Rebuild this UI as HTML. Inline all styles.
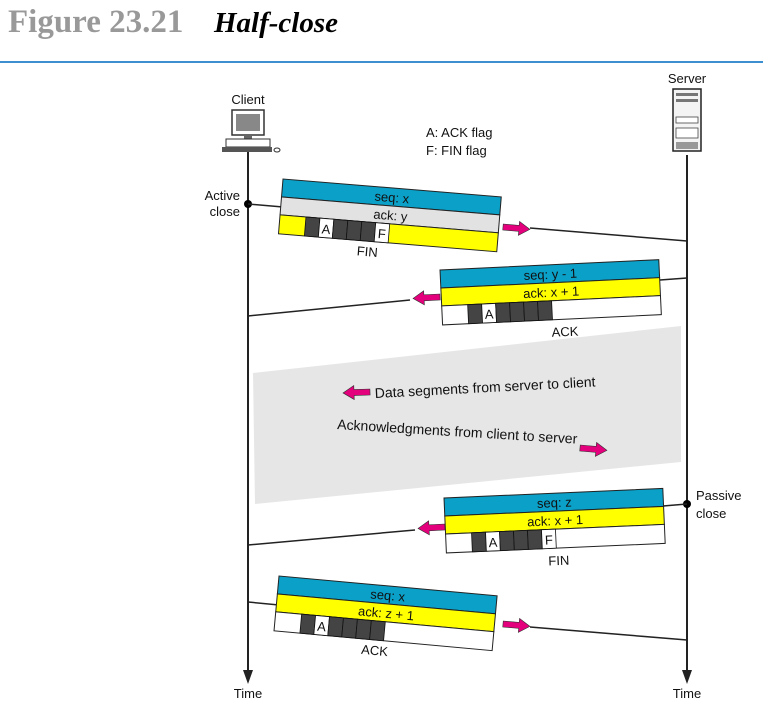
<!DOCTYPE html>
<html><head><meta charset="utf-8"><style>
html,body{margin:0;padding:0;background:#fff;width:763px;height:706px;overflow:hidden}
svg{display:block}
.t{font-family:"Liberation Sans",sans-serif;font-size:13px;fill:#111}
.b{font-family:"Liberation Sans",sans-serif;font-size:14px;fill:#111}
</style></head><body>
<svg width="763" height="706" viewBox="0 0 763 706" xmlns="http://www.w3.org/2000/svg">
<defs>
<g id="cells6">
<rect x="26" y="0" width="14" height="19" fill="#444" stroke="#111" stroke-width="0.8"/>
<rect x="40" y="0" width="14" height="19" fill="#fff" stroke="#111" stroke-width="0.8"/>
<text x="47" y="15" text-anchor="middle" class="t">A</text>
<rect x="54" y="0" width="14" height="19" fill="#444" stroke="#111" stroke-width="0.8"/>
<rect x="68" y="0" width="14" height="19" fill="#444" stroke="#111" stroke-width="0.8"/>
<rect x="82" y="0" width="14" height="19" fill="#444" stroke="#111" stroke-width="0.8"/>
</g>
<polygon id="arrR" points="0,-3 16,-3 16,-7 27,0 16,7 16,3 0,3" fill="#e4007c" stroke="#333" stroke-width="0.6"/>
</defs>

<text x="8" y="32" font-family="Liberation Serif,serif" font-size="33" font-weight="bold" fill="#999">Figure 23.21</text>
<text x="214" y="32" font-family="Liberation Serif,serif" font-size="29" font-weight="bold" font-style="italic" fill="#000">Half-close</text>
<rect x="0" y="61" width="763" height="2" fill="#3d8fd0"/>

<polygon points="253,373 681,326 681,462 255,504" fill="#e6e6e6"/>

<line x1="248" y1="150" x2="248" y2="672" stroke="#222" stroke-width="2"/>
<polygon points="243,670 253,670 248,684" fill="#222"/>
<line x1="687" y1="155" x2="687" y2="672" stroke="#222" stroke-width="2"/>
<polygon points="682,670 692,670 687,684" fill="#222"/>
<text x="248" y="698" text-anchor="middle" class="t">Time</text>
<text x="687" y="698" text-anchor="middle" class="t">Time</text>

<text x="248" y="104" text-anchor="middle" class="t">Client</text>
<rect x="232" y="110" width="32" height="25" fill="#fff" stroke="#333" stroke-width="1.5"/>
<rect x="236" y="114" width="24" height="17" fill="#888"/>
<rect x="244" y="135" width="8" height="4" fill="#666"/>
<rect x="226" y="139" width="44" height="8" fill="#fff" stroke="#333"/>
<rect x="222" y="147" width="50" height="5" fill="#555"/>
<ellipse cx="277" cy="150" rx="3" ry="2" fill="#fff" stroke="#333"/>

<text x="687" y="83" text-anchor="middle" class="t">Server</text>
<rect x="673" y="89" width="28" height="62" fill="#f4f4f4" stroke="#222" stroke-width="1.5"/>
<rect x="676" y="93" width="22" height="3" fill="#777"/>
<rect x="676" y="99" width="22" height="3" fill="#777"/>
<rect x="676" y="117" width="22" height="6" fill="#fff" stroke="#444" stroke-width="0.8"/>
<rect x="676" y="128" width="22" height="10" fill="#fff" stroke="#444" stroke-width="0.8"/>
<rect x="676" y="142" width="22" height="7" fill="#999"/>

<text x="426" y="137" class="t">A: ACK flag</text>
<text x="426" y="155" class="t">F: FIN flag</text>

<text x="240" y="200" text-anchor="end" class="t">Active</text>
<text x="240" y="216" text-anchor="end" class="t">close</text>
<circle cx="248" cy="204" r="4" fill="#000"/>

<text x="696" y="500" class="t">Passive</text>
<text x="696" y="518" class="t">close</text>
<circle cx="687" cy="504" r="4" fill="#000"/>

<line x1="248" y1="204" x2="283" y2="207" stroke="#222" stroke-width="1.5"/>
<line x1="530" y1="228" x2="687" y2="241" stroke="#222" stroke-width="1.5"/>
<use href="#arrR" transform="translate(503,227) rotate(5)"/>
<g transform="translate(283,179) rotate(4.7)">
<rect x="0" y="0" width="219" height="18" fill="#0aa0c8" stroke="#222"/>
<text x="110" y="14" text-anchor="middle" class="t">seq: x</text>
<rect x="0" y="18" width="219" height="18" fill="#e2e2e2" stroke="#222"/>
<text x="110" y="32" text-anchor="middle" class="t">ack: y</text>
<rect x="0" y="36" width="219" height="19" fill="#ffff00" stroke="#222"/>
<g transform="translate(0,36)"><use href="#cells6"/>
<rect x="96" y="0" width="14" height="19" fill="#fff" stroke="#111" stroke-width="0.8"/>
<text x="103" y="15" text-anchor="middle" class="t">F</text></g>
<text x="90" y="70" text-anchor="middle" class="t">FIN</text>
</g>

<line x1="687" y1="278" x2="660" y2="280" stroke="#222" stroke-width="1.5"/>
<line x1="410" y1="300" x2="248" y2="316" stroke="#222" stroke-width="1.5"/>
<use href="#arrR" transform="translate(440,297) rotate(177)"/>
<g transform="translate(440,270) rotate(-2.7)">
<rect x="0" y="0" width="219" height="18" fill="#0aa0c8" stroke="#222"/>
<text x="110" y="14" text-anchor="middle" class="t">seq: y - 1</text>
<rect x="0" y="18" width="219" height="18" fill="#ffff00" stroke="#222"/>
<text x="110" y="32" text-anchor="middle" class="t">ack: x + 1</text>
<rect x="0" y="36" width="219" height="19" fill="#fff" stroke="#222"/>
<g transform="translate(0,36)"><use href="#cells6"/>
<rect x="96" y="0" width="14" height="19" fill="#444" stroke="#111" stroke-width="0.8"/></g>
<text x="122" y="72" text-anchor="middle" class="t">ACK</text>
</g>

<use href="#arrR" transform="translate(370,392) rotate(178)"/>
<text x="375" y="398" class="b" transform="rotate(-3 375 398)">Data segments from server to client</text>
<text x="337" y="429" class="b" transform="rotate(3.5 337 429)">Acknowledgments from client to server</text>
<use href="#arrR" transform="translate(580,448) rotate(5)"/>

<line x1="687" y1="504" x2="663" y2="506" stroke="#222" stroke-width="1.5"/>
<line x1="415" y1="530" x2="248" y2="545" stroke="#222" stroke-width="1.5"/>
<use href="#arrR" transform="translate(445,527) rotate(177)"/>
<g transform="translate(444,498) rotate(-2.5)">
<rect x="0" y="0" width="219" height="18" fill="#0aa0c8" stroke="#222"/>
<text x="110" y="14" text-anchor="middle" class="t">seq: z</text>
<rect x="0" y="18" width="219" height="18" fill="#ffff00" stroke="#222"/>
<text x="110" y="32" text-anchor="middle" class="t">ack: x + 1</text>
<rect x="0" y="36" width="219" height="19" fill="#fff" stroke="#222"/>
<g transform="translate(0,36)"><use href="#cells6"/>
<rect x="96" y="0" width="14" height="19" fill="#fff" stroke="#111" stroke-width="0.8"/>
<text x="103" y="15" text-anchor="middle" class="t">F</text></g>
<text x="112" y="72" text-anchor="middle" class="t">FIN</text>
</g>

<line x1="248" y1="602" x2="279" y2="605" stroke="#222" stroke-width="1.5"/>
<line x1="530" y1="627" x2="687" y2="640" stroke="#222" stroke-width="1.5"/>
<use href="#arrR" transform="translate(503,624) rotate(5)"/>
<g transform="translate(279,576) rotate(5.2)">
<rect x="0" y="0" width="219" height="18" fill="#0aa0c8" stroke="#222"/>
<text x="110" y="14" text-anchor="middle" class="t">seq: x</text>
<rect x="0" y="18" width="219" height="18" fill="#ffff00" stroke="#222"/>
<text x="110" y="32" text-anchor="middle" class="t">ack: z + 1</text>
<rect x="0" y="36" width="219" height="19" fill="#fff" stroke="#222"/>
<g transform="translate(0,36)"><use href="#cells6"/>
<rect x="96" y="0" width="14" height="19" fill="#444" stroke="#111" stroke-width="0.8"/></g>
<text x="102" y="70" text-anchor="middle" class="t">ACK</text>
</g>
</svg>
</body></html>
